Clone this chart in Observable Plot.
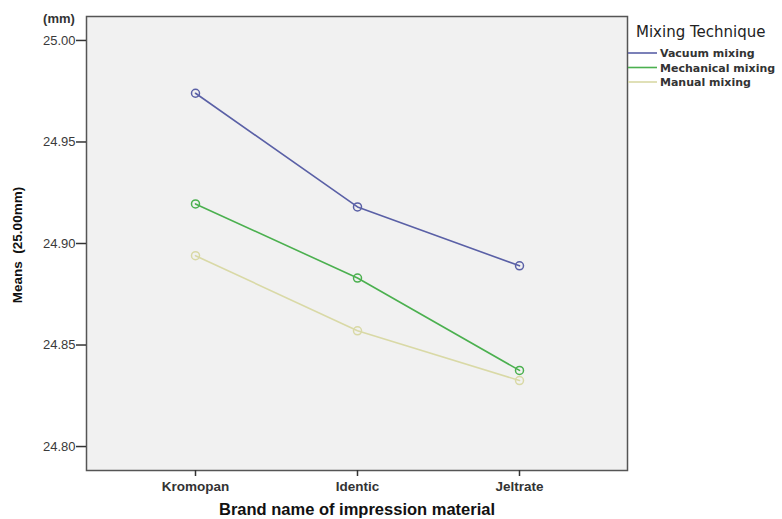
<!DOCTYPE html>
<html>
<head>
<meta charset="utf-8">
<script src="https://cdn.jsdelivr.net/npm/d3@7"></script>
<script src="https://cdn.jsdelivr.net/npm/@observablehq/plot@0.6"></script>
<style>
  html, body { margin: 0; padding: 0; background: #fff; }
  #chart { width: 782px; height: 519px; }
</style>
</head>
<body>
<div id="chart"></div>
<script>
const brands = ["Kromopan", "Identic", "Jeltrate"];
const techniques = ["Vacuum mixing", "Mechanical mixing", "Manual mixing"];
const colors = ["#5a60a6", "#4bb04f", "#d9d9a6"];
const vacuum = [24.974, 24.918, 24.889];
const mechanical = [24.9195, 24.883, 24.8375];
const manual = [24.894, 24.857, 24.8325];
const yTicks = [24.80, 24.85, 24.90, 24.95, 25.00];

const series = [vacuum, mechanical, manual];
const data = [];
techniques.forEach((t, i) => brands.forEach((b, j) => data.push({brand: b, technique: t, value: series[i][j]})));

const font = "'Liberation Sans', Arial, sans-serif";
const wide = "'DejaVu Sans', Verdana, sans-serif";

const plot = Plot.plot({
  width: 782,
  height: 519,
  marginLeft: 86,
  marginRight: 155,
  marginTop: 16,
  marginBottom: 49,
  style: {fontFamily: font, fontSize: "12px", color: "#333", background: "#fff"},
  x: {type: "point", domain: brands, padding: 0.665, label: null},
  y: {domain: [24.7882, 25.0118], label: null},
  color: {domain: techniques, range: colors},
  marks: [
    Plot.frame({fill: "#f1f1f1", stroke: "none"}),
    Plot.line(data, {x: "brand", y: "value", z: "technique", stroke: "technique", strokeWidth: 1.6}),
    Plot.dot(data, {x: "brand", y: "value", stroke: "technique", r: 4, strokeWidth: 1.5, fill: "none"}),
    Plot.frame({stroke: "#555", strokeWidth: 1.5}),
    Plot.axisY({ticks: yTicks, tickFormat: d3.format(".2f"), tickSize: 10, tickPadding: 1, stroke: "#333", strokeWidth: 1.5, fill: "#3a3a3a", fontSize: 13}),
    Plot.axisX({tickSize: 6, tickPadding: 5, stroke: "#333", strokeWidth: 1.5, fill: "#333", fontSize: 13.5, fontWeight: "bold"})
  ]
});

const svg = d3.select(plot);
// Unit label
svg.append("text").attr("x", 59).attr("y", 23).attr("text-anchor", "middle")
  .style("font-family", font).style("font-size", "13px").style("font-weight", "bold").attr("fill", "#333").text("(mm)");
// Y axis title
svg.append("text").attr("transform", "translate(22,245) rotate(-90)").attr("text-anchor", "middle")
  .style("font-family", font).style("font-size", "13.5px").style("font-weight", "bold").attr("fill", "#111").text("Means  (25.00mm)");
// X axis title
svg.append("text").attr("x", 357).attr("y", 515).attr("text-anchor", "middle")
  .style("font-family", font).style("font-size", "16.5px").style("font-weight", "bold").attr("fill", "#111").text("Brand name of impression material");
// Legend
const lg = svg.append("g").attr("text-anchor", "start").style("font-family", wide);
lg.append("text").attr("x", 636).attr("y", 37).style("font-size", "15px").attr("fill", "#222").text("Mixing Technique");
techniques.forEach((t, i) => {
  const y = 53 + i * 14.5;
  lg.append("line").attr("x1", 628).attr("x2", 657).attr("y1", y).attr("y2", y).attr("stroke", colors[i]).attr("stroke-width", 1.6);
  lg.append("text").attr("x", 660).attr("y", y + 4).style("font-size", "11px").style("font-weight", "bold").attr("fill", "#333").text(t);
});

document.getElementById("chart").appendChild(plot);
</script>
</body>
</html>
